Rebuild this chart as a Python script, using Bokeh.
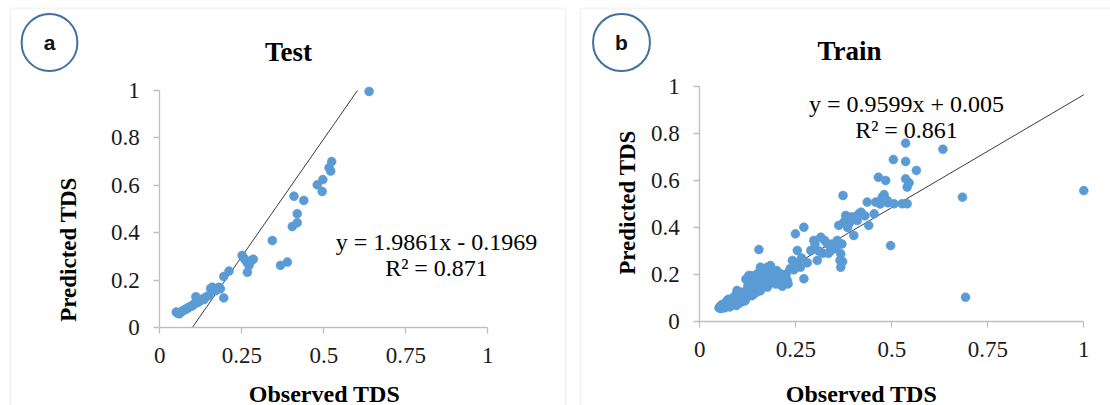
import math
from bokeh.plotting import figure
from bokeh.layouts import row
from bokeh.models import Range1d, FixedTicker, Label, BoxAnnotation, LinearAxis
from bokeh.embed import file_html
from bokeh.resources import INLINE

# ---------------- data ----------------
obs_test = [0.050, 0.055, 0.060, 0.065, 0.070, 0.075, 0.080, 0.085, 0.090, 0.095,
            0.100, 0.105, 0.110, 0.115, 0.120, 0.125, 0.130, 0.135, 0.140, 0.150,
            0.155, 0.160, 0.170, 0.180, 0.185, 0.195, 0.195, 0.211, 0.251, 0.258,
            0.265, 0.267, 0.272, 0.280, 0.285, 0.343, 0.368, 0.389, 0.404, 0.409,
            0.419, 0.419, 0.439, 0.480, 0.495, 0.497, 0.516, 0.521, 0.524, 0.638]
pred_test = [0.065, 0.060, 0.058, 0.066, 0.070, 0.074, 0.078, 0.082, 0.086, 0.090,
             0.092, 0.100, 0.130, 0.105, 0.110, 0.115, 0.120, 0.118, 0.128, 0.135,
             0.165, 0.170, 0.155, 0.170, 0.163, 0.125, 0.215, 0.238, 0.304, 0.290,
             0.276, 0.233, 0.262, 0.283, 0.288, 0.367, 0.262, 0.276, 0.426, 0.554,
             0.442, 0.480, 0.536, 0.602, 0.574, 0.624, 0.674, 0.660, 0.700, 0.996]

obs_train = [0.050, 0.053, 0.055, 0.058, 0.060, 0.063, 0.065, 0.068, 0.070, 0.071,
             0.075, 0.078, 0.080, 0.083, 0.085, 0.089, 0.090, 0.095, 0.097, 0.097,
             0.100, 0.103, 0.106, 0.110, 0.112, 0.115, 0.118, 0.120, 0.124, 0.128,
             0.130, 0.133, 0.133, 0.136, 0.140, 0.141, 0.145, 0.148, 0.150, 0.150,
             0.154, 0.155, 0.158, 0.158, 0.160, 0.165, 0.170, 0.171, 0.176, 0.176,
             0.180, 0.184, 0.185, 0.190, 0.195, 0.197, 0.200, 0.205, 0.210, 0.210,
             0.215, 0.220, 0.228, 0.235, 0.241, 0.249, 0.254, 0.262, 0.271, 0.271,
             0.280, 0.289, 0.297, 0.306, 0.315, 0.320, 0.332, 0.340, 0.349, 0.358,
             0.362, 0.367, 0.367, 0.370, 0.372, 0.373, 0.375, 0.380, 0.385, 0.401,
             0.401, 0.410, 0.414, 0.436, 0.440, 0.454, 0.458, 0.465, 0.475, 0.484,
             0.488, 0.497, 0.504, 0.506, 0.527, 0.536, 0.536, 0.536, 0.540, 0.540,
             0.545, 0.564, 0.633, 0.684, 0.692, 1.000,
             0.125, 0.135, 0.145, 0.165, 0.175, 0.185, 0.195, 0.205, 0.215, 0.225,
             0.230, 0.245, 0.255, 0.265, 0.300, 0.310, 0.325, 0.335, 0.345, 0.355,
             0.365, 0.390, 0.395, 0.420, 0.430, 0.470, 0.480, 0.490, 0.075, 0.088,
             0.092, 0.105, 0.110, 0.125]
pred_train = [0.058, 0.065, 0.055, 0.072, 0.062, 0.068, 0.058, 0.080, 0.066, 0.089,
              0.072, 0.062, 0.085, 0.070, 0.095, 0.103, 0.075, 0.068, 0.132, 0.085,
              0.110, 0.078, 0.092, 0.125, 0.100, 0.118, 0.088, 0.180, 0.105, 0.196,
              0.140, 0.131, 0.174, 0.110, 0.160, 0.118, 0.188, 0.125, 0.203, 0.146,
              0.306, 0.135, 0.231, 0.131, 0.170, 0.150, 0.190, 0.160, 0.231, 0.146,
              0.205, 0.238, 0.165, 0.210, 0.175, 0.160, 0.217, 0.185, 0.203, 0.167,
              0.195, 0.174, 0.174, 0.225, 0.260, 0.373, 0.302, 0.231, 0.182, 0.401,
              0.250, 0.302, 0.345, 0.260, 0.359, 0.290, 0.331, 0.300, 0.316, 0.345,
              0.409, 0.288, 0.231, 0.330, 0.255, 0.536, 0.423, 0.451, 0.400, 0.444,
              0.366, 0.430, 0.458, 0.508, 0.409, 0.458, 0.508, 0.614, 0.529, 0.600,
              0.515, 0.323, 0.689, 0.501, 0.501, 0.759, 0.681, 0.607, 0.572, 0.501,
              0.590, 0.643, 0.733, 0.529, 0.103, 0.557,
              0.185, 0.195, 0.170, 0.200, 0.215, 0.190, 0.205, 0.160, 0.150, 0.200,
              0.160, 0.220, 0.250, 0.270, 0.330, 0.300, 0.345, 0.290, 0.330, 0.310,
              0.260, 0.420, 0.445, 0.465, 0.450, 0.500, 0.540, 0.505, 0.095, 0.078,
              0.110, 0.120, 0.085, 0.150]

fit_test = (1.9861, -0.1969)
fit_train = (0.9599, 0.005)
eq_test = ["y = 1.9861x - 0.1969", "R\u00b2 = 0.871"]
eq_train = ["y = 0.9599x + 0.005", "R\u00b2 = 0.861"]

x_ticks = [0.0, 0.25, 0.5, 0.75, 1.0]
x_tick_labels = ["0", "0.25", "0.5", "0.75", "1"]
y_ticks = [0.0, 0.2, 0.4, 0.6, 0.8, 1.0]
y_tick_labels = ["0", "0.2", "0.4", "0.6", "0.8", "1"]

SERIF = "Liberation Serif"
SANS = "Liberation Sans"
DOT = "#5b9bd5"
AXIS = "#bfbfbf"
BORDER = "#d9d9d9"
RING = "#41719c"
H = 405


def trend(fit, xs):
    m, b = fit
    x0 = max(min(xs), (0 - b) / m)
    x1 = min(max(xs), (1 - b) / m)
    return [x0, x1], [m * x0 + b, m * x1 + b]


def canvas_label(p, x, y, text, **kw):
    p.add_layout(Label(x=x, y=y, x_units="canvas", y_units="canvas", text=text, **kw))


def panel(W, obs, pred, fit, eq, letter, title, ox, oy, sx, sy,
          border_left, border_right, circ, title_pos, ylab_pos, xlab_pos, eq_pos):
    # ox, oy: canvas pixel of data origin; sx, sy: pixels per data unit
    x_range = Range1d(-ox / sx, (W - ox) / sx)
    y_range = Range1d(-(H - oy) / sy, oy / sy)
    p = figure(width=W, height=H, x_range=x_range, y_range=y_range,
               x_axis_type=None, y_axis_type=None, min_border=0,
               output_backend="svg", toolbar_location=None)
    p.outline_line_color = None
    p.background_fill_color = "white"
    p.border_fill_color = "white"

    xa = LinearAxis(fixed_location=0)
    ya = LinearAxis(fixed_location=0)
    p.add_layout(xa, "below")
    p.add_layout(ya, "left")

    lx, ly = trend(fit, obs)
    p.line(lx, ly, line_color="#3a3a3a", line_width=1)
    p.scatter(obs, pred, size=9, fill_color=DOT, line_color=DOT, line_width=0.5)

    for ax, ticks, labels in ((xa, x_ticks, x_tick_labels), (ya, y_ticks, y_tick_labels)):
        ax.ticker = FixedTicker(ticks=ticks)
        ax.major_label_overrides = dict(zip(ticks, labels))
        ax.bounds = (0, 1)
        ax.axis_line_color = AXIS
        ax.axis_line_width = 1.3
        ax.major_tick_line_color = AXIS
        ax.major_tick_line_width = 1.3
        ax.major_tick_in = 0
        ax.major_tick_out = 6
        ax.minor_tick_line_color = None
        ax.major_label_text_font = SERIF
        ax.major_label_text_font_size = "23px"
        ax.major_label_text_color = "#1a1a1a"
    xa.major_label_standoff = 14
    ya.major_label_standoff = 14

    # panel border (bottom edge lies below the canvas)
    p.add_layout(BoxAnnotation(left=border_left, right=border_right, top=8, bottom=H + 20,
                               left_units="canvas", right_units="canvas",
                               top_units="canvas", bottom_units="canvas",
                               fill_color=None, fill_alpha=0,
                               line_color=BORDER, line_width=2))
    # circled letter
    canvas_label(p, circ[0], circ[1], letter, text_font=SANS, text_font_style="bold",
                 text_font_size="21px", text_color="#111111",
                 text_align="center", text_baseline="middle",
                 border_line_color=RING, border_line_width=2,
                 border_radius=28, padding=(22, 17))
    # title
    canvas_label(p, title_pos[0], title_pos[1], title, text_font=SERIF,
                 text_font_style="bold", text_font_size="27px", text_color="#000000",
                 text_align="center", text_baseline="alphabetic")
    # axis titles
    canvas_label(p, ylab_pos[0], ylab_pos[1], "Predicted TDS", angle=math.pi / 2,
                 text_font=SERIF, text_font_style="bold", text_font_size="23px",
                 text_color="#000000", text_align="center", text_baseline="middle")
    canvas_label(p, xlab_pos[0], xlab_pos[1], "Observed TDS", text_font=SERIF,
                 text_font_style="bold", text_font_size="24px", text_color="#000000",
                 text_align="center", text_baseline="alphabetic")
    # trend-line equation
    for i, t in enumerate(eq):
        canvas_label(p, eq_pos[0], eq_pos[1] + 26 * i, t, text_font=SERIF,
                     text_font_size="24px", text_color="#000000",
                     text_align="center", text_baseline="alphabetic")
    return p


WA, WB = 575, 535
pa = panel(WA, obs_test, pred_test, fit_test, eq_test, "a", "Test",
           ox=159.3, oy=327, sx=328.0, sy=237.0,
           border_left=10, border_right=565, circ=(49, 42), title_pos=(288, 51),
           ylab_pos=(68, 249), xlab_pos=(324, 393), eq_pos=(436, 241))
pb = panel(WB, obs_train, pred_train, fit_train, eq_train, "b", "Train",
           ox=699.3 - WA, oy=321, sx=384.0, sy=235.0,
           border_left=580 - WA, border_right=WB + 20, circ=(621 - WA, 42),
           title_pos=(849 - WA, 50), ylab_pos=(627 - WA, 202),
           xlab_pos=(861 - WA, 393), eq_pos=(906 - WA, 103))

layout = row(pa, pb)
open("out.html", "w").write(file_html(layout, INLINE))
